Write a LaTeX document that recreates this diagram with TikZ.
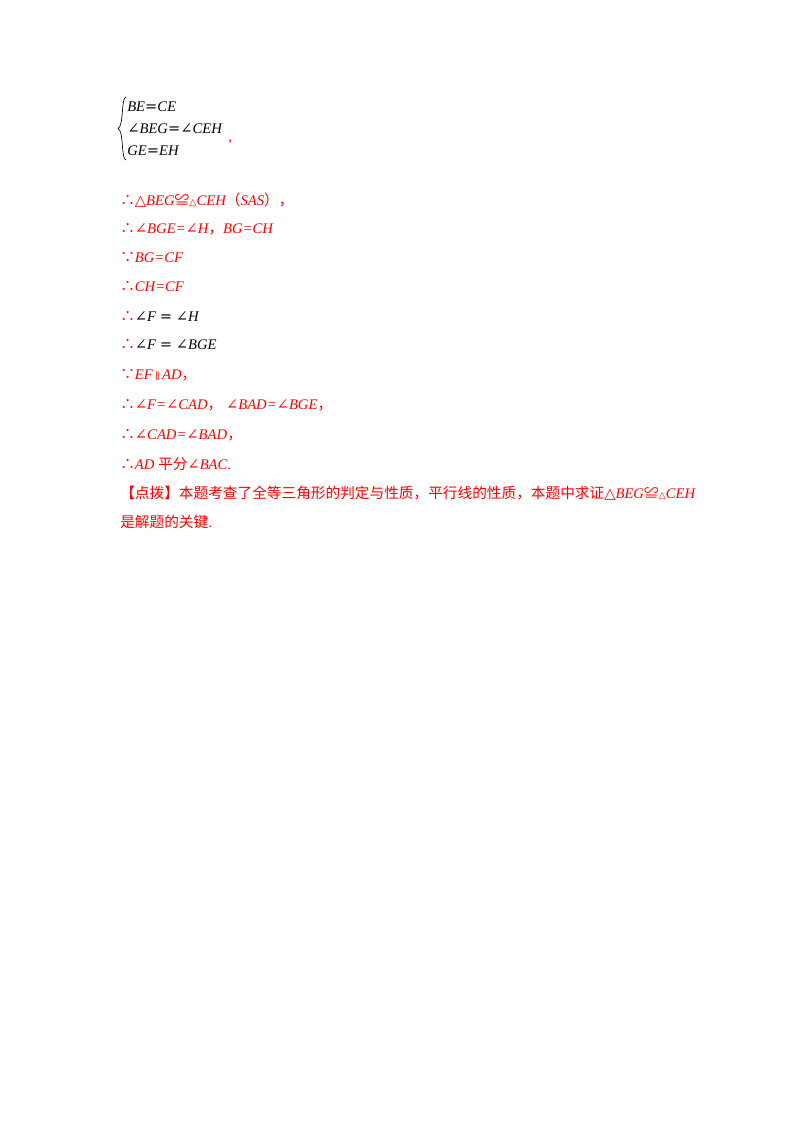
\documentclass[tikz,border=0pt]{standalone}
\usepackage{fontspec}
\setmainfont{Liberation Serif}
\newfontfamily\cjk{Noto Sans CJK SC}
\newfontfamily\symf{DejaVu Serif}
\definecolor{rd}{RGB}{255,0,0}
\newcommand{\SY}[1]{{\symf\upshape #1}}
\newcommand{\CJ}[1]{{\cjk\upshape #1}}
\begin{document}
\begin{tikzpicture}[x=0.75pt,y=-0.75pt,
  ln/.style={anchor=west,inner sep=0pt,font=\fontsize{11}{13}\selectfont\itshape},
  rl/.style={ln,text=rd}]
\useasboundingbox (0,0) rectangle (800,1132);
\coordinate (bt) at (126,97);
\coordinate (bb) at (126,160);
\draw[line width=0.5pt] (bt) .. controls (121,97) and (124,126) .. (118,128.5) .. controls (124,131) and (121,160) .. (bb);
\node[ln] (l1) at (127,107) {BE\SY{=}CE};
\node[ln] (l2) at (127,129) {\SY{∠}BEG\SY{=}\SY{∠}CEH};
\node[ln] (l3) at (127,151) {GE\SY{=}EH};
\node[rl] (cm) at (228,142) {\upshape,};
\node[rl] (r1) at (120,200) {\CJ{∴}\SY{△}BEG\CJ{≌}\SY{\scriptsize △}CEH\CJ{（}SAS\CJ{），}};
\node[rl] (r2) at (120,229) {\CJ{∴}\SY{∠}BGE=\SY{∠}H\CJ{，}BG=CH};
\node[rl] (r3) at (120,258) {\CJ{∵}BG=CF};
\node[rl] (r4) at (120,287) {\CJ{∴}CH=CF};
\node[ln] (r5) at (120,316) {\textcolor{rd}{\CJ{∴}}\SY{∠}F \SY{=} \SY{∠}H};
\node[ln] (r6) at (120,345) {\textcolor{rd}{\CJ{∴}}\SY{∠}F \SY{=} \SY{∠}BGE};
\node[rl] (r7) at (120,375) {\CJ{∵}EF\,\SY{\scriptsize∥}\,AD\CJ{，}};
\node[rl] (r8) at (120,405) {\CJ{∴}\SY{∠}F=\SY{∠}CAD\CJ{，}\ \SY{∠}BAD=\SY{∠}BGE\CJ{，}};
\node[rl] (r9) at (120,435) {\CJ{∴}\SY{∠}CAD=\SY{∠}BAD\CJ{，}};
\node[rl] (r10) at (120,464) {\CJ{∴}AD \CJ{平分}\SY{∠}BAC\upshape.};
\node[rl] (r11) at (120,493) {\CJ{【点拨】本题考查了全等三角形的判定与性质，平行线的性质，本题中求证}\SY{△}BEG\CJ{≌}\SY{\scriptsize △}CEH};
\node[rl] (r12) at (120,522) {\CJ{是解题的关键}\upshape.};
\end{tikzpicture}
\end{document}
